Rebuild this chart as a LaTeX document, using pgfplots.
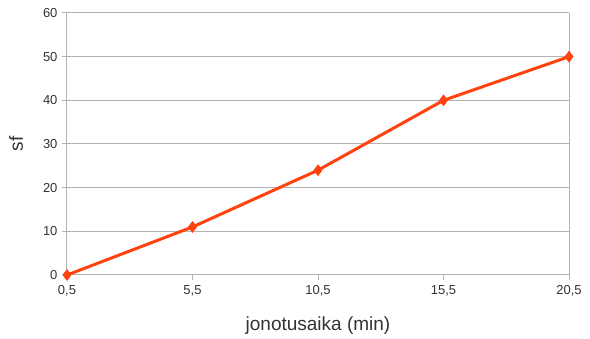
\documentclass[border=0pt]{standalone}
\usepackage{pgfplots}
\pgfplotsset{compat=1.18}
\usepackage{fontspec}
\setmainfont{Liberation Sans}
\definecolor{serie}{HTML}{FF420E}
\definecolor{gridc}{HTML}{B3B3B3}
\definecolor{textc}{HTML}{333333}
\begin{document}
\begin{tikzpicture}[x=1pt,y=1pt]
\begin{axis}[
  scale only axis,
  width=502pt, height=262pt,
  xmin=0.5, xmax=20.5, ymin=0, ymax=60,
  xtick={0.5,5.5,10.5,15.5,20.5},
  ytick={0,10,...,60},
  /pgf/number format/assume math mode=true,
  /pgf/number format/use comma,
  /pgf/number format/fixed,
  /pgf/number format/precision=1,
  xticklabel style={font=\fontsize{13}{15}\selectfont, text=textc, /pgf/number format/fixed zerofill, yshift=-2pt},
  yticklabel style={font=\fontsize{13}{15}\selectfont, text=textc, xshift=-1pt},
  axis line style={gridc, line width=1pt},
  axis x line*=bottom, axis y line*=left,
  ymajorgrids, major grid style={gridc, line width=1pt},
  tick style={gridc, line width=1pt},
  tick align=outside, major tick length=5pt,
  xlabel={jonotusaika (min)}, ylabel={sf},
  label style={font=\fontsize{19}{21}\selectfont, text=textc},
  xlabel style={at={(axis description cs:0.5,0)}, anchor=center, yshift=-51pt},
  ylabel style={at={(axis description cs:0,0.5)}, anchor=center, rotate=0, xshift=0pt, yshift=51pt},
  clip=false,
]
\draw[gridc, line width=1pt] (axis cs:20.5,0) -- (axis cs:20.5,60);
\addplot[serie, line width=3pt, mark=diamond*, mark size=5.5pt, mark options={solid, fill=serie, line width=0.5pt}]
  coordinates {(0.5,0) (5.5,11) (10.5,24) (15.5,40) (20.5,50)};
\end{axis}
\path (current axis.south west) ++(-67pt,-62pt) coordinate (bl);
\path (current axis.north east) ++(21pt,13pt) coordinate (tr);
\useasboundingbox (bl) rectangle (tr);
\end{tikzpicture}
\end{document}
